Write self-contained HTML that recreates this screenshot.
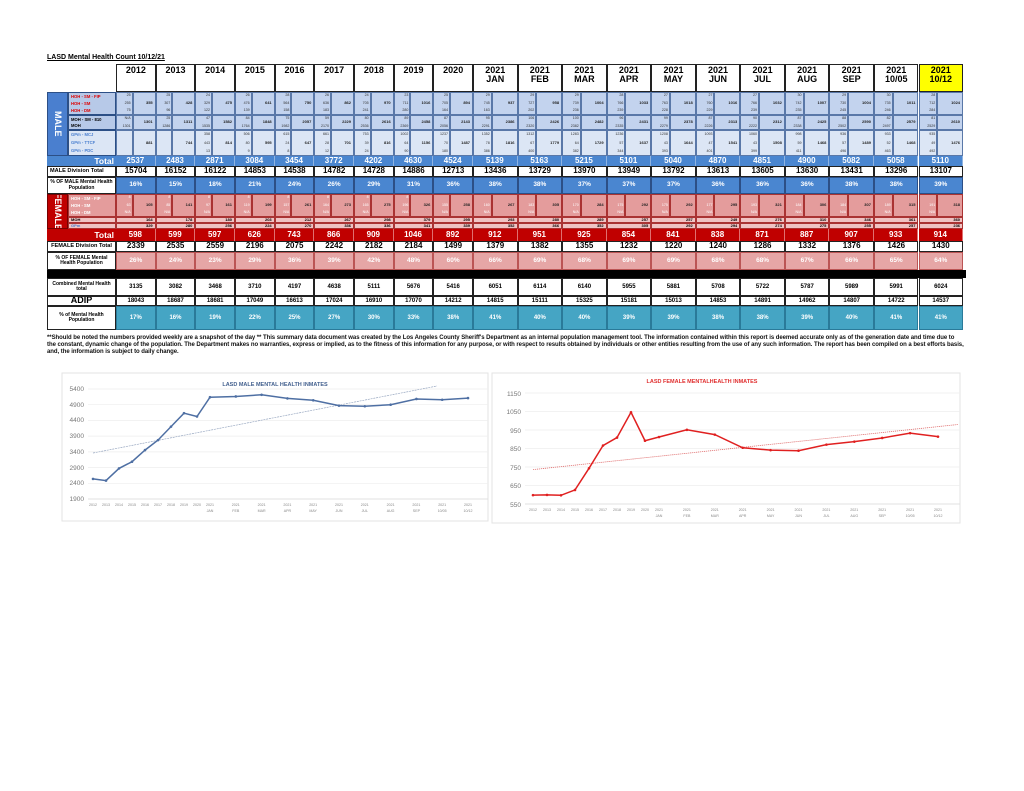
<!DOCTYPE html>
<html><head><meta charset="utf-8">
<style>
body{margin:0;background:#fff;width:1024px;height:791px;overflow:hidden;font-family:"Liberation Sans",sans-serif}
#wrap{position:absolute;left:0;top:0;width:1024px;height:791px}
.c{position:absolute;box-sizing:border-box;display:flex;align-items:center;justify-content:center;text-align:center;font-weight:bold;line-height:1.05;overflow:hidden}
.foot{position:absolute;left:47px;top:335px;width:925px;font-size:6px;font-weight:bold;line-height:7px;color:#111;letter-spacing:-0.05px;white-space:nowrap}
</style></head><body><div id="wrap">
<div style="position:absolute;left:47px;top:54px;font-size:7px;font-weight:bold;text-decoration:underline">LASD Mental Health Count 10/12/21</div>
<div class="foot">**Should be noted the numbers provided weekly are a snapshot of the day ** This summary data document was created by the Los Angeles County Sheriff's Department as an internal population management tool.  The information contained within this report is deemed accurate only as of the generation date and time due to<br>the constant, dynamic change of the population.  The Department makes no warranties, express or implied, as to the fitness of this information for any purpose, or with respect to results obtained by individuals or other entities resulting from the use of any such information.  The report has been compiled on a best efforts basis,<br>and, the information is subject to daily change.</div>

<svg style="position:absolute;left:0;top:0" width="1024" height="791" font-family="Liberation Sans, sans-serif">
 <rect x="62" y="373" width="426" height="148" fill="#fff" stroke="#e3e3e3"/>
 <text x="275" y="386" font-size="5.5" font-weight="bold" fill="#44618f" text-anchor="middle">LASD MALE MENTAL HEALTH INMATES</text>
 <g stroke="#eeeeee" stroke-width="0.7">
  <line x1="88" x2="488" y1="389" y2="389"/><line x1="88" x2="488" y1="404.7" y2="404.7"/><line x1="88" x2="488" y1="420.4" y2="420.4"/><line x1="88" x2="488" y1="436.1" y2="436.1"/><line x1="88" x2="488" y1="451.9" y2="451.9"/><line x1="88" x2="488" y1="467.6" y2="467.6"/><line x1="88" x2="488" y1="483.3" y2="483.3"/><line x1="88" x2="488" y1="499" y2="499" stroke="#d9d9d9"/>
 </g>
 <g font-size="6.5" fill="#777" text-anchor="end">
  <text x="84" y="391">5400</text><text x="84" y="407">4900</text><text x="84" y="422">4400</text><text x="84" y="438">3900</text><text x="84" y="454">3400</text><text x="84" y="470">2900</text><text x="84" y="485">2400</text><text x="84" y="501">1900</text>
 </g>
 <line x1="93" y1="453" x2="437" y2="386" stroke="#9aa9c2" stroke-width="0.7" stroke-dasharray="2,0.8"/>
 <g id="mline"></g>
 <g id="mlab" font-size="3.6" fill="#888" text-anchor="middle"></g>
 <rect x="492" y="373" width="468" height="150" fill="#fff" stroke="#e3e3e3"/>
 <text x="702" y="383" font-size="5.5" font-weight="bold" fill="#e03030" text-anchor="middle">LASD FEMALE MENTALHEALTH INMATES</text>
 <g stroke="#eeeeee" stroke-width="0.7">
  <line x1="525" x2="960" y1="393" y2="393"/><line x1="525" x2="960" y1="411.5" y2="411.5"/><line x1="525" x2="960" y1="430" y2="430"/><line x1="525" x2="960" y1="448.5" y2="448.5"/><line x1="525" x2="960" y1="467" y2="467"/><line x1="525" x2="960" y1="485.5" y2="485.5"/><line x1="525" x2="960" y1="504" y2="504" stroke="#d9d9d9"/>
 </g>
 <g font-size="6.5" fill="#777" text-anchor="end">
  <text x="521" y="396">1150</text><text x="521" y="414">1050</text><text x="521" y="433">950</text><text x="521" y="451">850</text><text x="521" y="470">750</text><text x="521" y="488">650</text><text x="521" y="507">550</text>
 </g>
 <line x1="533" y1="469.6" x2="958" y2="424.5" stroke="#e07070" stroke-width="0.8" stroke-dasharray="1.2,0.8"/>
 <g id="fline"></g>
 <g id="flab" font-size="3.6" fill="#888" text-anchor="middle"></g>
</svg>
</div>
<script>
var W=document.getElementById('wrap');
var xs=[];for(var i=0;i<=9;i++)xs.push(116+i*39.67);for(var j=1;j<=11;j++)xs.push(473+j*44.55);
function cell(x,y,w,h,txt,st){var d=document.createElement('div');d.className='c';d.style.left=x+'px';d.style.top=y+'px';d.style.width=w+'px';d.style.height=h+'px';d.style.cssText+=';'+(st||'');d.innerHTML=txt;W.appendChild(d);return d;}
var yrs=['2012','2013','2014','2015','2016','2017','2018','2019','2020'];
var mo=['JAN','FEB','MAR','APR','MAY','JUN','JUL','AUG','SEP','10/05','10/12'];
var hdr=yrs.concat(mo.map(function(m){return '2021<br>'+m}));
var B='border:1px solid #222;';
for(var k=0;k<20;k++){cell(xs[k],64,xs[k+1]-xs[k],28,hdr[k],B+'font-size:9px;align-items:flex-start;padding-top:1px;'+(k==19?'background:#ffff00;':'background:#fff;'));}
var mH=[[25,255,75,355],[25,307,96,428],[24,329,122,475],[26,476,139,641],[28,564,158,750],[26,636,183,862],[24,705,241,970],[23,711,280,1016],[25,705,164,894],[29,745,163,937],[29,727,202,958],[29,739,236,1004],[28,766,239,1033],[27,763,228,1018],[27,760,229,1016],[27,766,239,1032],[30,742,235,1007],[29,730,245,1004],[30,735,246,1011],[28,712,284,1024]];
var mM=[['N/A',1301,1301],[25,1286,1311],[47,1535,1582],[84,1764,1848],[75,1982,2057],[59,2170,2229],[80,2536,2616],[89,2369,2458],[87,2056,2143],[95,2291,2386],[106,2320,2426],[100,2382,2482],[96,2335,2431],[99,2279,2378],[87,2226,2313],[90,2222,2312],[87,2338,2425],[88,2502,2590],[82,2497,2579],[81,2529,2610]];
var mG=[['','','',881],['','','',744],[358,443,13,814],[506,80,9,595],[615,24,8,647],[661,28,12,701],[753,39,24,816],[1002,64,90,1156],[1237,70,180,1487],[1352,78,386,1816],[1312,67,400,1779],[1283,64,382,1729],[1236,57,344,1637],[1208,43,393,1644],[1093,47,401,1541],[1060,43,399,1508],[998,59,411,1468],[936,57,496,1489],[933,52,463,1468],[935,49,492,1476]];
var mT=[2537,2483,2871,3084,3454,3772,4202,4630,4524,5139,5163,5215,5101,5040,4870,4851,4900,5082,5058,5110];
var mD=[15704,16152,16122,14853,14538,14782,14728,14886,12713,13436,13729,13970,13949,13792,13613,13605,13630,13431,13296,13107];
var mP=[16,15,18,21,24,26,29,31,36,38,38,37,37,37,36,36,36,38,38,39];
var fH=[105,141,161,199,261,273,275,326,258,267,305,284,292,292,295,321,306,307,315,318];
var fM=[164,178,180,203,212,267,298,379,295,293,280,289,257,257,249,276,310,346,361,360];
var fG=[329,280,256,224,270,336,336,341,339,352,366,352,305,292,294,274,275,255,257,236];
var fT=[598,599,597,626,743,866,909,1046,892,912,951,925,854,841,838,871,887,907,933,914];
var fD=[2339,2535,2559,2196,2075,2242,2182,2184,1499,1379,1382,1355,1232,1220,1240,1286,1332,1376,1426,1430];
var fP=[26,24,23,29,36,39,42,48,60,66,69,68,69,69,68,68,67,66,65,64];
var cM=[3135,3082,3468,3710,4197,4638,5111,5676,5416,6051,6114,6140,5955,5881,5708,5722,5787,5989,5991,6024];
var AD=[18043,18687,18681,17049,16613,17024,16910,17070,14212,14815,15111,15325,15181,15013,14853,14891,14962,14807,14722,14537];
var PM=[17,16,19,22,25,27,30,33,38,41,40,40,39,39,38,38,39,40,41,41];
cell(47,92,21,64,'<span style="writing-mode:vertical-rl;font-size:9px;color:#fff">MALE</span>','background:#4a7fcf;border:1px solid #2c4f86;');
cell(68,92,48,23,'<div style="text-align:left;width:100%;font-size:4.2px;color:#d00;padding-left:2px;line-height:7px">HOH - SM - FIP<br>HOH - SM<br>HOH - DM</div>','background:#b7c9e8;border:1px solid #2c4f86;');
cell(68,115,48,15,'<div style="text-align:left;width:100%;font-size:4.2px;color:#000;padding-left:2px;line-height:6px">MOH - SM - 810<br>MOH</div>','background:#b7c9e8;border:1px solid #2c4f86;');
cell(68,130,48,26,'<div style="text-align:left;width:100%;font-size:4.2px;color:#4a7fcf;padding-left:2px;line-height:8px">GPm - MCJ<br>GPm - TTCF<br>GPm - PDC</div>','background:#dce6f5;border:1px solid #2c4f86;');
cell(47,156,69,10,'Total','background:#4a86d0;color:#fff;font-size:8.5px;justify-content:flex-end;padding-right:2px;');
cell(47,166,69,11,'MALE Division Total','background:#fff;'+B+'font-size:5.6px;justify-content:flex-start;padding-left:2px;');
cell(47,177,69,17,'% OF MALE Mental Health Population','background:#fff;'+B+'font-size:5px;');
cell(47,194,21,35,'<span style="writing-mode:vertical-rl;font-size:9px;color:#fff">FEMALE</span>','background:#c00000;border:1px solid #700;');
cell(68,194,48,23,'<div style="text-align:left;width:100%;font-size:4.2px;color:#fff;padding-left:2px;line-height:7px">HOH - SM - FIP<br>HOH - SM<br>HOH - DM</div>','background:#e49c9c;border:1px solid #a33;');
cell(68,217,48,6,'<div style="text-align:left;width:100%;font-size:4px;padding-left:2px">MOH</div>','background:#f0c3c3;border:1px solid #a33;');
cell(68,223,48,6,'<div style="text-align:left;width:100%;font-size:4px;color:#4a7fcf;padding-left:2px">GPm</div>','background:#f0c3c3;border:1px solid #a33;');
cell(47,229,69,12,'Total','background:#c00000;color:#fff;font-size:8.5px;justify-content:flex-end;padding-right:2px;');
cell(47,241,69,11,'FEMALE Division Total','background:#fff;'+B+'font-size:5.6px;');
cell(47,252,69,18,'% OF FEMALE Mental Health Population','background:#fff;'+B+'font-size:5px;');
cell(47,270,919,8,'','background:#000;');
cell(47,278,69,18,'Combined Mental Health total','background:#fff;'+B+'font-size:5px;');
cell(47,296,69,10,'ADIP','background:#fff;'+B+'font-size:9px;');
cell(47,306,69,24,'% of Mental Health Population','background:#fff;'+B+'font-size:5px;');
function sub(x,y,w,h,vals,col,bg,tot,bc){
  var lw=w*0.42;
  cell(x,y,lw,h,'<div style="width:100%;text-align:right;padding-right:1px;font-size:3.6px;font-weight:normal;color:'+col+';line-height:'+(h/vals.length)+'px">'+vals.join('<br>')+'</div>','background:'+bg+';border:0.5px solid '+bc+';');
  cell(x+lw,y,w-lw,h,'<div style="width:100%;text-align:right;padding-right:2px;font-size:4px;color:#222">'+tot+'</div>','background:'+bg+';border:0.5px solid '+bc+';');
}
for(k=0;k<20;k++){var x=xs[k],w=xs[k+1]-xs[k];
 sub(x,92,w,23,mH[k].slice(0,3),'#333','#c3d3ee',mH[k][3],'#5a78a8');
 sub(x,115,w,15,mM[k].slice(0,2),'#333','#c3d3ee',mM[k][2],'#5a78a8');
 sub(x,130,w,26,mG[k].slice(0,3),'#333','#dce6f5',mG[k][3],'#5a78a8');
 cell(x,156,w,10,mT[k],'background:#4a86d0;color:#fff;font-size:8px;border-right:0.5px solid #8fb3e0;');
 cell(x,166,w,11,mD[k],B+'background:#fff;font-size:8px;');
 cell(x,177,w,17,mP[k]+'%','background:#4a86d0;color:#fff;font-size:6.5px;border:0.5px solid #2c4f86;');
 sub(x,194,w,23,[k<8?'8':'',Math.round(fH[k]*0.6),'N/A'],'#fff','#e49c9c',fH[k],'#a33');
 cell(x,217,w,6,'<div style="width:100%;text-align:right;padding-right:2px;font-size:4px">'+fM[k]+'</div>','background:#f0c3c3;border:0.5px solid #a33;');
 cell(x,223,w,6,'<div style="width:100%;text-align:right;padding-right:2px;font-size:4px">'+fG[k]+'</div>','background:#f0c3c3;border:0.5px solid #a33;');
 cell(x,229,w,12,fT[k],'background:#c00000;color:#fff;font-size:8px;border-right:0.5px solid #e07070;');
 cell(x,241,w,11,fD[k],B+'background:#fff;font-size:8px;');
 cell(x,252,w,18,fP[k]+'%','background:#e6a6a6;color:#fff;font-size:6.5px;border:0.5px solid #b55;');
 cell(x,278,w,18,cM[k],B+'background:#fff;font-size:6px;');
 cell(x,296,w,10,AD[k],B+'background:#fff;font-size:6px;');
 cell(x,306,w,24,PM[k]+'%','background:#45a5c4;color:#fff;font-size:6px;border:0.5px solid #2a7a99;');
}
var NS='http://www.w3.org/2000/svg';
function el(p,t,a,txt){var e=document.createElementNS(NS,t);for(var q in a)e.setAttribute(q,a[q]);if(txt!==undefined)e.textContent=txt;document.getElementById(p).appendChild(e);}
var labs=yrs.map(function(y){return [y,'']}).concat(mo.map(function(m){return ['2021',m]}));
function chart(g,lg,vals,x0,ys,xm0,xs2,vmax,py0,pv,col,ly){
 var pts=vals.map(function(v,i){var x=i<9?x0+i*ys:xm0+(i-9)*xs2;return [x,py0+(vmax-v)*pv];});
 el(g,'polyline',{points:pts.map(function(p){return p.join(',')}).join(' '),fill:'none',stroke:col,'stroke-width':1.5});
 pts.forEach(function(p,i){el(g,'circle',{cx:p[0],cy:p[1],r:1.3,fill:col});
  el(lg,'text',{x:p[0],y:ly},labs[i][0]);if(labs[i][1])el(lg,'text',{x:p[0],y:ly+6},labs[i][1]);});
}
chart('mline','mlab',mT,93,13,210,25.8,5400,389,15.7/500,'#4e6fa3',506);
chart('fline','flab',fT,533,14,659,27.9,1150,393,18.5/100,'#e02020',511);
</script>
</body></html>
